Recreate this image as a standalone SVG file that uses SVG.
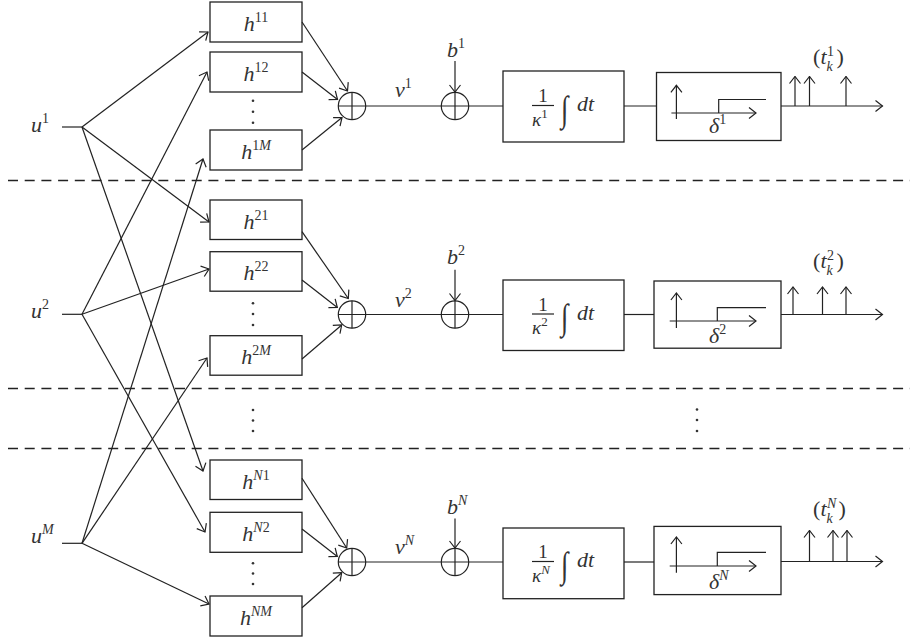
<svg xmlns="http://www.w3.org/2000/svg" width="910" height="640" viewBox="0 0 910 640">
<style>
.ln{stroke:#222;stroke-width:1.2;fill:none}
.bx{stroke:#222;stroke-width:1.3;fill:#fff}
.ar{stroke:#222;stroke-width:1.2;fill:none;marker-end:url(#ah)}
.ds{stroke:#222;stroke-width:1.3;stroke-dasharray:10 6.7;fill:none}
.dot{fill:#333}
text{font-family:"Liberation Serif","Times New Roman",serif;fill:#333;font-size:22px}
.it{font-style:italic}
.up{font-style:normal}
.sup{font-size:14px}
.fr{font-size:19px}
.ig{font-size:36px;font-style:normal}
</style>
<defs>
<marker id="ah" viewBox="-8 -7 9 14" refX="0" refY="0" markerWidth="9" markerHeight="14" markerUnits="userSpaceOnUse" orient="auto">
<path d="M-7,-5.5 L0,0 L-7,5.5" fill="none" stroke="#222" stroke-width="1.2"/>
</marker>
</defs>

<g id="separators">
<line class="ds" x1="8" y1="180.5" x2="910" y2="180.5"/>
<line class="ds" x1="8" y1="388.5" x2="910" y2="388.5"/>
<line class="ds" x1="8" y1="448.5" x2="910" y2="448.5"/>
<circle class="dot" cx="253" cy="410" r="1.3"/><circle class="dot" cx="253" cy="420.5" r="1.3"/><circle class="dot" cx="253" cy="431" r="1.3"/>
<circle class="dot" cx="697" cy="409.5" r="1.3"/><circle class="dot" cx="697" cy="420" r="1.3"/><circle class="dot" cx="697" cy="431" r="1.3"/>
</g>

<g id="u1"><text class="it" x="31" y="132">u<tspan class="sup up" dy="-9">1</tspan></text><line class="ln" x1="62" y1="127" x2="82" y2="127"/></g>
<g id="u2"><text class="it" x="31" y="318">u<tspan class="sup up" dy="-9">2</tspan></text><line class="ln" x1="62" y1="314.3" x2="82" y2="314.3"/></g>
<g id="uM"><text class="it" x="31" y="543">u<tspan class="sup" dy="-9">M</tspan></text><line class="ln" x1="62" y1="543.3" x2="82" y2="543.3"/></g>

<g id="h11"><rect class="bx" x="210" y="2" width="92" height="40"/><text class="it" x="256" y="30.5" text-anchor="middle">h<tspan class="sup up" dy="-9">11</tspan></text></g>
<g id="h12"><rect class="bx" x="210" y="52" width="92" height="40"/><text class="it" x="256" y="80.5" text-anchor="middle">h<tspan class="sup up" dy="-9">12</tspan></text></g>
<g id="h1M"><rect class="bx" x="210" y="130" width="92" height="40"/><text class="it" x="256" y="158.5" text-anchor="middle">h<tspan class="sup" dy="-9"><tspan class="up">1</tspan>M</tspan></text></g>
<g id="dots1"><circle class="dot" cx="253" cy="100.7" r="1.3"/><circle class="dot" cx="253" cy="111.7" r="1.3"/><circle class="dot" cx="253" cy="122.7" r="1.3"/></g>

<g id="h21"><rect class="bx" x="210" y="200" width="92" height="39.5"/><text class="it" x="256" y="228.5" text-anchor="middle">h<tspan class="sup up" dy="-9">21</tspan></text></g>
<g id="h22"><rect class="bx" x="210" y="251.7" width="92" height="39.5"/><text class="it" x="256" y="280" text-anchor="middle">h<tspan class="sup up" dy="-9">22</tspan></text></g>
<g id="h2M"><rect class="bx" x="210" y="335.7" width="92" height="39.5"/><text class="it" x="256" y="364" text-anchor="middle">h<tspan class="sup" dy="-9"><tspan class="up">2</tspan>M</tspan></text></g>
<g id="dots2"><circle class="dot" cx="253" cy="303.3" r="1.3"/><circle class="dot" cx="253" cy="314" r="1.3"/><circle class="dot" cx="253" cy="325" r="1.3"/></g>

<g id="hN1"><rect class="bx" x="210" y="460" width="92" height="39.5"/><text class="it" x="256" y="488.5" text-anchor="middle">h<tspan class="sup" dy="-9">N<tspan class="up">1</tspan></tspan></text></g>
<g id="hN2"><rect class="bx" x="210" y="512.3" width="92" height="40"/><text class="it" x="256" y="541" text-anchor="middle">h<tspan class="sup" dy="-9">N<tspan class="up">2</tspan></tspan></text></g>
<g id="hNM"><rect class="bx" x="210" y="596" width="92" height="40"/><text class="it" x="256" y="624.5" text-anchor="middle">h<tspan class="sup" dy="-9">NM</tspan></text></g>
<g id="dotsN"><circle class="dot" cx="253" cy="563.3" r="1.3"/><circle class="dot" cx="253" cy="573.5" r="1.3"/><circle class="dot" cx="253" cy="584" r="1.3"/></g>

<g id="connectors">
<line class="ar" x1="82" y1="127" x2="208" y2="32"/>
<line class="ar" x1="82" y1="127" x2="209" y2="222"/>
<line class="ar" x1="82" y1="127" x2="203" y2="471"/>
<line class="ar" x1="82" y1="314.3" x2="207" y2="72"/>
<line class="ar" x1="82" y1="314.3" x2="209" y2="269"/>
<line class="ar" x1="82" y1="314.3" x2="205" y2="532"/>
<line class="ar" x1="82" y1="543.3" x2="203" y2="159"/>
<line class="ar" x1="82" y1="543.3" x2="207" y2="358"/>
<line class="ar" x1="82" y1="543.3" x2="209" y2="604"/>

<line class="ar" x1="302" y1="22" x2="347.5" y2="91"/>
<line class="ar" x1="302" y1="72" x2="337.5" y2="99.5"/>
<line class="ar" x1="302" y1="150" x2="342" y2="117.5"/>
<line class="ar" x1="302" y1="231.7" x2="348.3" y2="298.5"/>
<line class="ar" x1="302" y1="280" x2="337.3" y2="307.5"/>
<line class="ar" x1="302" y1="359" x2="341.7" y2="325"/>
<line class="ar" x1="302" y1="478.3" x2="346.7" y2="548"/>
<line class="ar" x1="302" y1="529" x2="337.3" y2="556.5"/>
<line class="ar" x1="302" y1="607.7" x2="341.7" y2="572.7"/>

<line class="ln" x1="338.3" y1="106" x2="503" y2="106"/>
<line class="ar" x1="455" y1="61" x2="455" y2="92"/>
<line class="ln" x1="624" y1="106" x2="656.5" y2="106"/>
<line class="ar" x1="781" y1="106" x2="882.5" y2="106"/>
<line class="ar" x1="795" y1="106" x2="795" y2="76.5"/>
<line class="ar" x1="809.5" y1="106" x2="809.5" y2="76.5"/>
<line class="ar" x1="846" y1="106" x2="846" y2="76.5"/>

<line class="ln" x1="338.3" y1="314.5" x2="503" y2="314.5"/>
<line class="ar" x1="455" y1="269.7" x2="455" y2="300.5"/>
<line class="ln" x1="624" y1="314.5" x2="654" y2="314.5"/>
<line class="ar" x1="781" y1="314.5" x2="882.5" y2="314.5"/>
<line class="ar" x1="793" y1="314.5" x2="793" y2="287"/>
<line class="ar" x1="822.5" y1="314.5" x2="822.5" y2="287"/>
<line class="ar" x1="846" y1="314.5" x2="846" y2="287"/>

<line class="ln" x1="338.3" y1="562" x2="503" y2="562"/>
<line class="ar" x1="455" y1="518.6" x2="455" y2="548"/>
<line class="ln" x1="624" y1="562" x2="654" y2="562"/>
<line class="ar" x1="781" y1="561.5" x2="882.5" y2="561.5"/>
<line class="ar" x1="809.5" y1="561.5" x2="809.5" y2="530.5"/>
<line class="ar" x1="833" y1="561.5" x2="833" y2="530.5"/>
<line class="ar" x1="847" y1="561.5" x2="847" y2="530.5"/>
</g>

<g id="sum11"><circle class="ln" cx="352" cy="106" r="13.7"/><line class="ln" x1="352" y1="92.3" x2="352" y2="119.7"/></g>
<g id="sum12"><circle class="ln" cx="455" cy="106" r="13.7"/><line class="ln" x1="455" y1="92.3" x2="455" y2="119.7"/></g>
<g id="sum21"><circle class="ln" cx="352" cy="314.5" r="13.7"/><line class="ln" x1="352" y1="300.8" x2="352" y2="328.2"/></g>
<g id="sum22"><circle class="ln" cx="455" cy="314.5" r="13.7"/><line class="ln" x1="455" y1="300.8" x2="455" y2="328.2"/></g>
<g id="sumN1"><circle class="ln" cx="352" cy="562" r="13.7"/><line class="ln" x1="352" y1="548.3" x2="352" y2="575.7"/></g>
<g id="sumN2"><circle class="ln" cx="455" cy="562" r="13.7"/><line class="ln" x1="455" y1="548.3" x2="455" y2="575.7"/></g>

<g id="labels1">
<text class="it" x="395" y="97">ν<tspan class="sup up" dy="-9">1</tspan></text>
<text class="it" x="447" y="56.5">b<tspan class="sup up" dy="-9">1</tspan></text>
<text class="up" x="813" y="64">(</text><text class="it" x="820.5" y="64">t</text><text class="it sup" x="826.5" y="71">k</text><text class="sup up" x="827" y="55.5">1</text><text class="up" x="836.5" y="64">)</text>
</g>
<g id="labels2">
<text class="it" x="395" y="307">ν<tspan class="sup up" dy="-9">2</tspan></text>
<text class="it" x="447" y="264.3">b<tspan class="sup up" dy="-9">2</tspan></text>
<text class="up" x="813" y="268">(</text><text class="it" x="820.5" y="268">t</text><text class="it sup" x="826.5" y="275">k</text><text class="sup up" x="827" y="259.5">2</text><text class="up" x="836.5" y="268">)</text>
</g>
<g id="labelsN">
<text class="it" x="395" y="554">ν<tspan class="sup" dy="-9">N</tspan></text>
<text class="it" x="447" y="514">b<tspan class="sup" dy="-9">N</tspan></text>
<text class="up" x="813" y="516">(</text><text class="it" x="820.5" y="516">t</text><text class="it sup" x="826.5" y="523">k</text><text class="sup it" x="827" y="507.5">N</text><text class="up" x="838.5" y="516">)</text>
</g>

<g id="int1">
<rect class="bx" x="503" y="71" width="121" height="71"/>
<text class="up fr" x="543" y="102" text-anchor="middle">1</text>
<line class="ln" x1="532" y1="105.5" x2="554" y2="105.5" stroke-width="0.9"/>
<text class="it fr" x="532" y="125.5">κ<tspan class="up" font-size="13" dy="-8">1</tspan></text>
<text class="ig" transform="translate(561,120.5) scale(0.75,1)">∫</text>
<text class="it" x="577" y="111">dt</text>
</g>
<g id="int2">
<rect class="bx" x="503" y="280" width="121" height="70.5"/>
<text class="up fr" x="543" y="310.5" text-anchor="middle">1</text>
<line class="ln" x1="532" y1="314" x2="554" y2="314" stroke-width="0.9"/>
<text class="it fr" x="532" y="334">κ<tspan class="up" font-size="13" dy="-8">2</tspan></text>
<text class="ig" transform="translate(561,329) scale(0.75,1)">∫</text>
<text class="it" x="577" y="319.5">dt</text>
</g>
<g id="intN">
<rect class="bx" x="503" y="528" width="121" height="70.7"/>
<text class="up fr" x="543" y="558" text-anchor="middle">1</text>
<line class="ln" x1="532" y1="561.5" x2="554" y2="561.5" stroke-width="0.9"/>
<text class="it fr" x="532" y="581.5">κ<tspan font-size="13" dy="-8">N</tspan></text>
<text class="ig" transform="translate(561,576.5) scale(0.75,1)">∫</text>
<text class="it" x="577" y="567">dt</text>
</g>

<g id="thr1">
<rect class="bx" x="656.5" y="72.5" width="124.5" height="68"/>
<line class="ar" x1="676.4" y1="119" x2="676.4" y2="85.3"/>
<line class="ar" x1="671.4" y1="113" x2="756" y2="113"/>
<polyline class="ln" points="718.7,113 718.7,99.5 766,99.5"/>
<text class="it" x="709" y="132.7">δ<tspan class="sup up" dy="-9">1</tspan></text>
</g>
<g id="thr2">
<rect class="bx" x="654" y="281" width="127" height="67.2"/>
<line class="ar" x1="676.4" y1="328" x2="676.4" y2="293"/>
<line class="ar" x1="669.7" y1="321" x2="756" y2="321"/>
<polyline class="ln" points="717.3,321 717.3,307.6 766,307.6"/>
<text class="it" x="709" y="343">δ<tspan class="sup up" dy="-9">2</tspan></text>
</g>
<g id="thrN">
<rect class="bx" x="654" y="526.4" width="127" height="68.2"/>
<line class="ar" x1="676.4" y1="572.7" x2="676.4" y2="537"/>
<line class="ar" x1="669.7" y1="566" x2="756" y2="566"/>
<polyline class="ln" points="717.3,566 717.3,552.4 766,552.4"/>
<text class="it" x="709" y="588.6">δ<tspan class="sup" dy="-9">N</tspan></text>
</g>
</svg>
